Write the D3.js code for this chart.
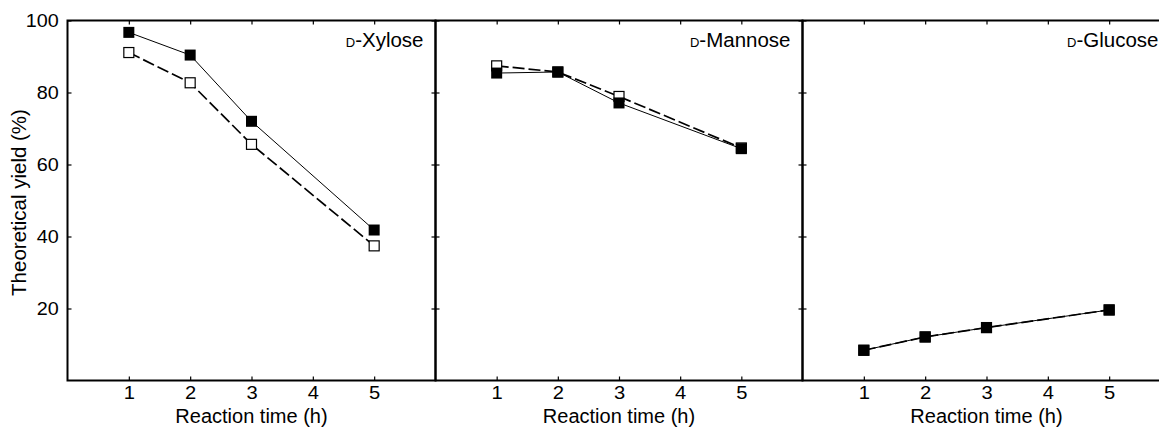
<!DOCTYPE html>
<html>
<head>
<meta charset="utf-8">
<script src="https://cdn.jsdelivr.net/npm/d3@7"></script>
<style>
  html, body { margin: 0; padding: 0; background: #fff; overflow: hidden; }
  svg { display: block; }
  text { font-family: "Liberation Sans", Arial, Helvetica, sans-serif; fill: #000; }
</style>
</head>
<body>
<svg id="chart" width="1159" height="428"></svg>
<script>
// ---- data ----
const times = [1, 2, 3, 5];
const xTicks = [1, 2, 3, 4, 5];
const yTicks = [20, 40, 60, 80, 100];
const panelNames = ["Xylose", "Mannose", "Glucose"];
const xyloseFilled = [96.7, 90.4, 72.0, 41.8];
const xyloseOpen = [91.1, 82.7, 65.6, 37.4];
const mannoseFilled = [85.4, 85.7, 77.1, 64.4];
const mannoseOpen = [87.4, 85.7, 78.9, 64.6];
const glucoseFilled = [8.4, 12.1, 14.7, 19.6];
const glucoseOpen = [8.4, 12.1, 14.7, 19.6];
const yTitle = "Theoretical yield (%)";
const xTitle = "Reaction time (h)";

const panels = [
  { name: panelNames[0], filled: xyloseFilled, open: xyloseOpen },
  { name: panelNames[1], filled: mannoseFilled, open: mannoseOpen },
  { name: panelNames[2], filled: glucoseFilled, open: glucoseOpen }
];

// ---- layout ----
const svg = d3.select("#chart");
const yTop = 20.5, yBot = 380.5;
const panelX = [[67.5, 435.5], [435.5, 802.5], [802.5, 1170.5]];
const y = d3.scaleLinear().domain([0, 100]).range([yBot, yTop]);
const tickFont = 18, titleFont = 20;

panels.forEach((p, i) => {
  const [x0, x1] = panelX[i];
  const x = d3.scaleLinear().domain([0, 6]).range([x0, x1]);
  const g = svg.append("g");

  // axes with inward ticks
  const bx = g.append("g").attr("transform", `translate(0,${yBot})`)
    .call(d3.axisBottom(x).tickValues(xTicks).tickSize(-4).tickSizeOuter(0).tickPadding(6).tickFormat(d3.format("d")));
  const tx = g.append("g").attr("transform", `translate(0,${yTop})`)
    .call(d3.axisTop(x).tickValues(xTicks).tickSize(-4).tickSizeOuter(0).tickFormat(""));
  const ly = g.append("g").attr("transform", `translate(${x0},0)`)
    .call(d3.axisLeft(y).tickValues(yTicks).tickSize(-4).tickSizeOuter(0).tickPadding(8)
      .tickFormat(i === 0 ? d3.format("d") : () => ""));
  const ry = g.append("g").attr("transform", `translate(${x1},0)`)
    .call(d3.axisRight(y).tickValues(yTicks).tickSize(-4).tickSizeOuter(0).tickFormat(""));
  [bx, tx, ly, ry].forEach(a => {
    a.select(".domain").remove();
    a.selectAll(".tick line").attr("stroke", "#000").attr("stroke-width", 1.2);
    a.selectAll(".tick text").attr("font-size", tickFont)
      .attr("font-family", '"Liberation Sans", Arial, sans-serif').attr("fill", "#000");
  });
  bx.selectAll(".tick text").attr("transform", "scale(1.12,1)");
  ly.selectAll(".tick text").attr("transform", "scale(1.1,1)");

  // frame
  g.append("rect").attr("x", x0).attr("y", yTop).attr("width", x1 - x0).attr("height", yBot - yTop)
    .attr("fill", "none").attr("stroke", "#000").attr("stroke-width", 2);

  // x title
  g.append("text").attr("x", (x0 + x1) / 2).attr("y", 423).attr("text-anchor", "middle")
    .attr("font-size", titleFont).text(xTitle);

  // panel label
  const lab = g.append("text").attr("x", x1 - 12).attr("y", 47).attr("text-anchor", "end")
    .attr("font-size", 20.5);
  lab.append("tspan").attr("font-size", 13).text("D");
  lab.append("tspan").text("-" + p.name);

  // lines
  const line = d3.line().x((d, k) => x(times[k])).y(d => y(d));
  g.append("path").datum(p.open).attr("d", line).attr("fill", "none")
    .attr("stroke", "#000").attr("stroke-width", 1.7).attr("stroke-dasharray", "12,4");
  g.append("path").datum(p.filled).attr("d", line).attr("fill", "none")
    .attr("stroke", "#000").attr("stroke-width", 1);

  // markers: open first, filled on top
  const so = 10, sf = 11;
  g.selectAll("rect.open").data(p.open).enter().append("rect").attr("class", "open")
    .attr("x", (d, k) => x(times[k]) - so / 2).attr("y", d => y(d) - so / 2)
    .attr("width", so).attr("height", so).attr("fill", "#fff").attr("stroke", "#000").attr("stroke-width", 1.2);
  g.selectAll("rect.filled").data(p.filled).enter().append("rect").attr("class", "filled")
    .attr("x", (d, k) => x(times[k]) - sf / 2).attr("y", d => y(d) - sf / 2)
    .attr("width", sf).attr("height", sf).attr("fill", "#000");
});

// y title
svg.append("text").attr("transform", `translate(26,${(yTop + yBot) / 2 + 2}) rotate(-90)`)
  .attr("text-anchor", "middle").attr("font-size", 20.5).text(yTitle);
</script>
</body>
</html>
